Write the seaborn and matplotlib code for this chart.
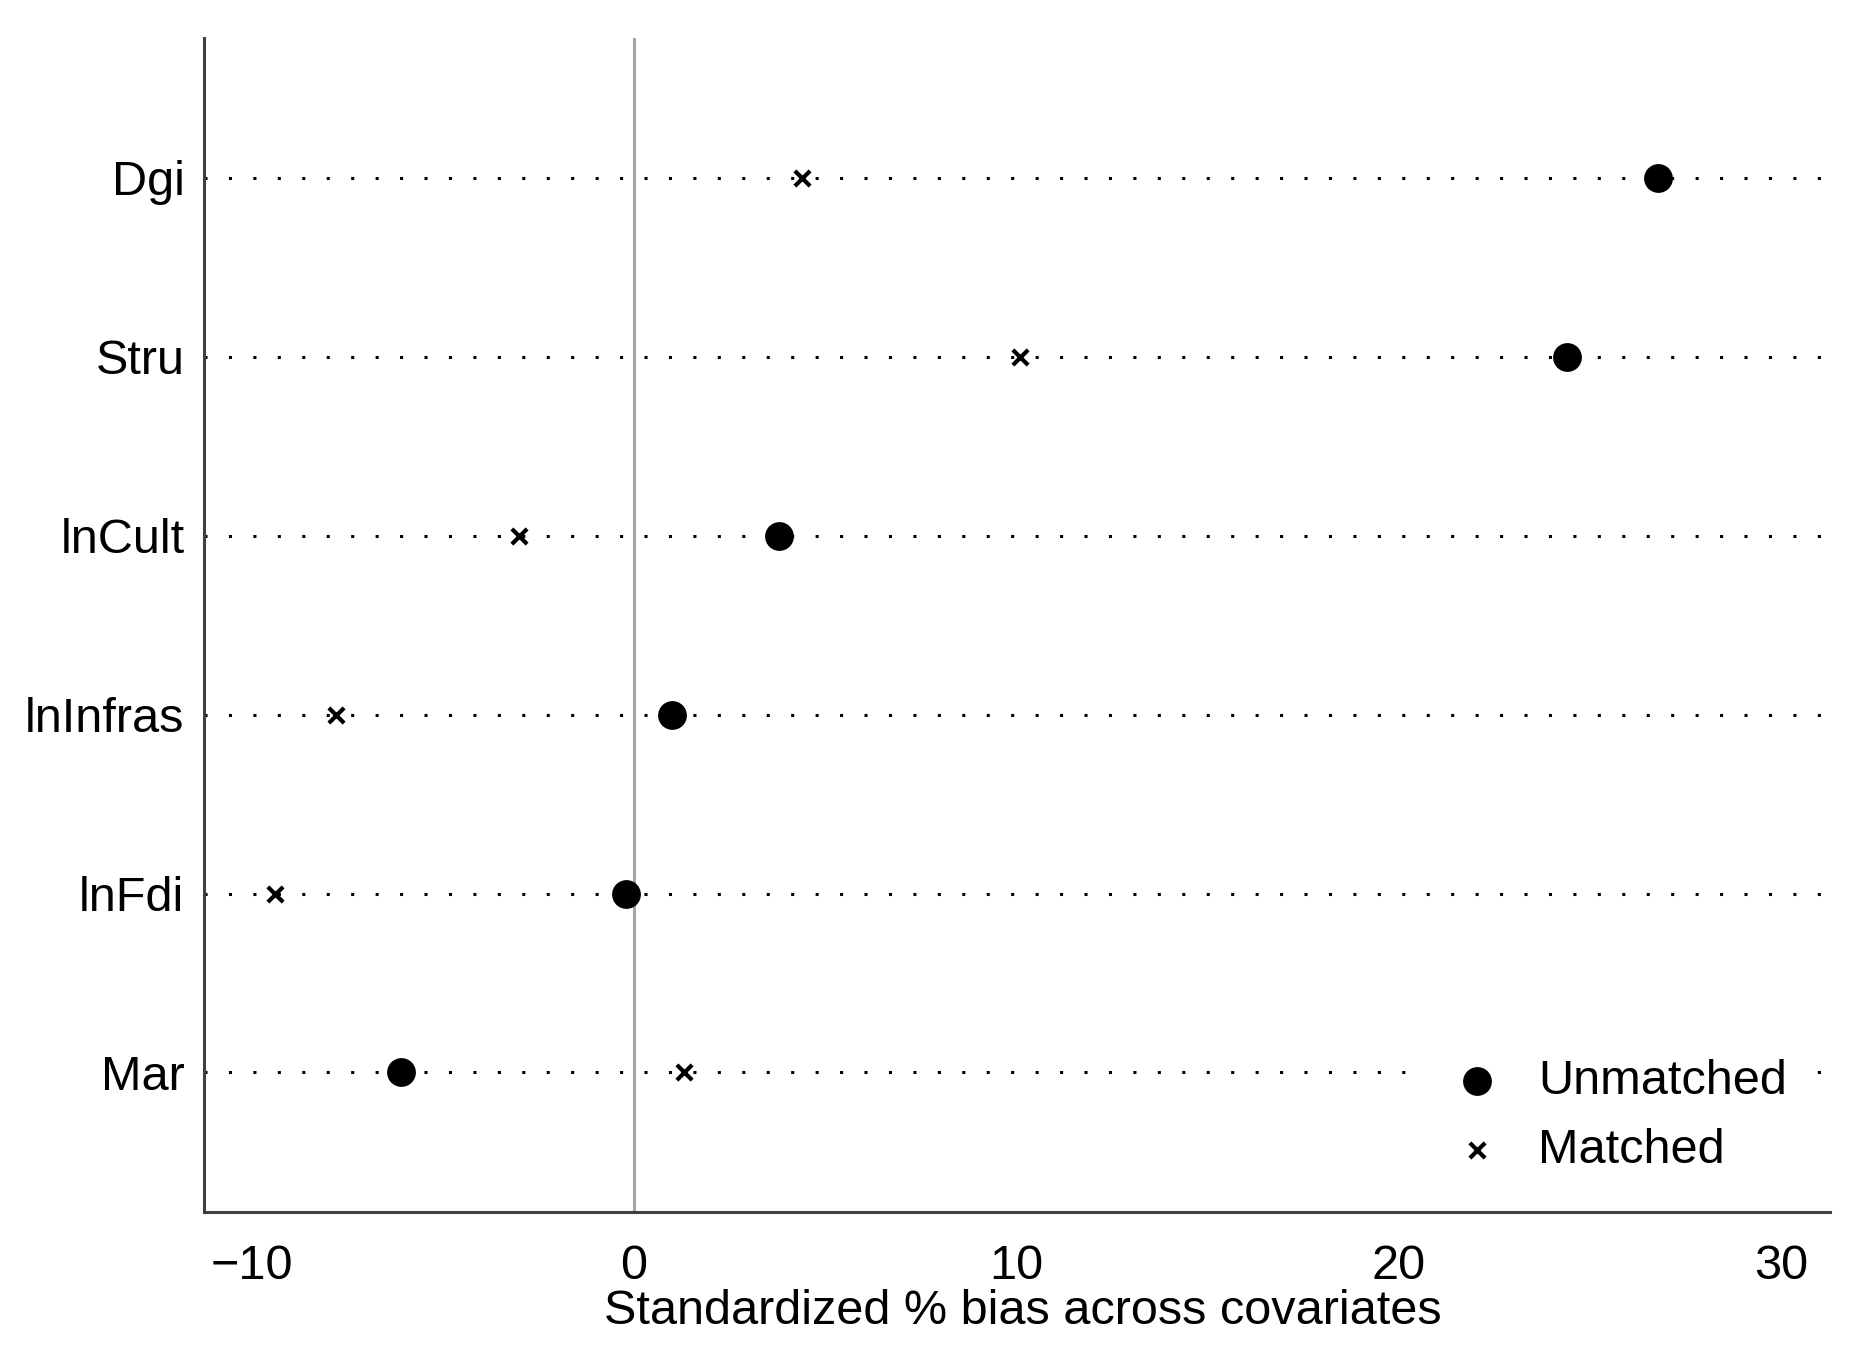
import matplotlib
matplotlib.use("Agg")
import matplotlib.pyplot as plt
import seaborn as sns
import pandas as pd

# Data (top to bottom)
covariates = ["Dgi", "Stru", "lnCult", "lnInfras", "lnFdi", "Mar"]
unmatched = [26.8, 24.4, 3.8, 1.0, -0.2, -6.1]
matched = [4.4, 10.1, -3.0, -7.8, -9.4, 1.3]
x_ticks = [-10, 0, 10, 20, 30]

df_u = pd.DataFrame({"Covariate": covariates, "Bias": unmatched})
df_m = pd.DataFrame({"Covariate": covariates, "Bias": matched})

sns.set_style("white")
plt.rcParams["font.family"] = ["Liberation Sans", "DejaVu Sans"]
plt.rcParams["text.color"] = "black"
plt.rcParams["axes.labelcolor"] = "black"
plt.rcParams["xtick.labelcolor"] = "black"
plt.rcParams["ytick.labelcolor"] = "black"

fig = plt.figure(figsize=(18.7, 13.68), dpi=100)
ax = fig.add_axes([0.109, 0.114, 0.876, 0.858])

# dotted reference lines for each covariate
ax.yaxis.grid(True, linestyle=(0, (1, 7)), color="black", linewidth=2.2)
ax.xaxis.grid(False)
ax.set_axisbelow(True)

ax.axvline(0, color="#a6a6a6", linewidth=2.2, zorder=1)

sns.scatterplot(data=df_u, x="Bias", y="Covariate", marker="o", s=430,
                color="black", edgecolor="black", linewidth=0,
                label="Unmatched", ax=ax, zorder=3)
sns.scatterplot(data=df_m, x="Bias", y="Covariate", marker="x", s=120,
                color="black", linewidth=3, label="Matched", ax=ax, zorder=3)

ax.set_xlim(-11.25, 31.6)
ax.set_ylim(len(covariates) - 1 + 0.78, -0.78)
ax.set_xticks(x_ticks)

for side in ["top", "right"]:
    ax.spines[side].set_visible(False)
for side in ["left", "bottom"]:
    ax.spines[side].set_color("#404040")
    ax.spines[side].set_linewidth(2.2)
ax.spines["bottom"].set_bounds(-11.25, 31.28)

ax.tick_params(axis="x", direction="out", length=13, width=2, color="#505050",
               labelsize=35, pad=10)
ax.tick_params(axis="y", length=0, labelsize=35, pad=14)

ax.set_xlabel("Standardized % bias across covariates", fontsize=35, labelpad=0)
ax.set_ylabel("")

leg = ax.legend(loc="lower right", bbox_to_anchor=(0.99, 0.0), fontsize=35,
                frameon=True, framealpha=1, facecolor="white", edgecolor="none",
                handletextpad=0.25, labelspacing=0.5, borderpad=0.3)

fig.savefig("out.png", dpi=100)
